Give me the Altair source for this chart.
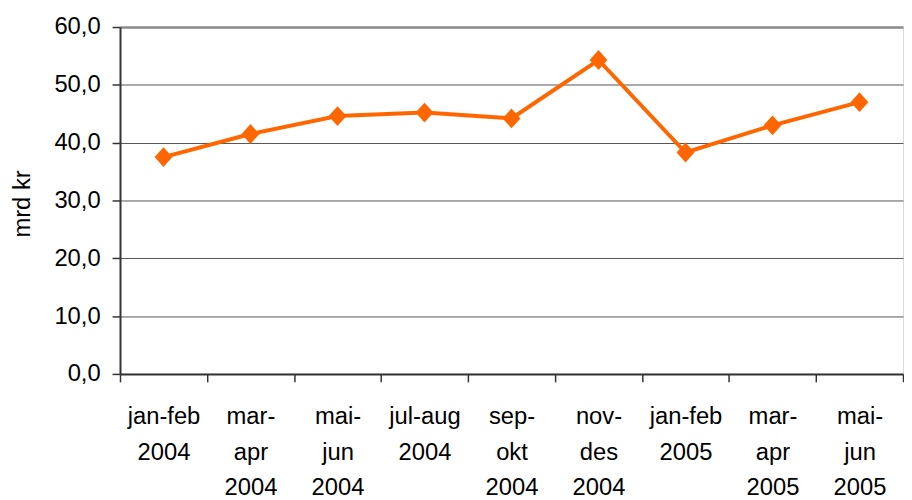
import altair as alt
import pandas as pd

categories = ["jan-feb\n2004", "mar-\napr\n2004", "mai-\njun\n2004", "jul-aug\n2004",
              "sep-\nokt\n2004", "nov-\ndes\n2004", "jan-feb\n2005", "mar-\napr\n2005",
              "mai-\njun\n2005"]
values = [37.5, 41.5, 44.6, 45.2, 44.2, 54.3, 38.3, 43.0, 47.0]
y_ticks = [0, 10, 20, 30, 40, 50, 60]

df = pd.DataFrame({"periode": categories, "verdi": values})

FONT = "Liberation Sans"
ORANGE = "#FF6600"

x_enc = alt.X(
    "periode:N",
    sort=categories,
    scale=alt.Scale(type="band", paddingInner=0, paddingOuter=0),
    axis=alt.Axis(
        title=None,
        labelAngle=0,
        labelAlign="center",
        labelBaseline="top",
        labelExpr="split(datum.label, '\\n')",
        labelFont=FONT,
        labelFontSize=24,
        labelColor="#000000",
        labelLineHeight=36,
        labelPadding=23,
        labelOverlap=False,
        labelBound=False,
        tickBand="extent",
        ticks=True,
        tickSize=8,
        tickColor="#333333",
        tickWidth=1.5,
        domainColor="#333333",
        domainWidth=2,
        grid=False,
    ),
)

y_enc = alt.Y(
    "verdi:Q",
    scale=alt.Scale(domain=[0, 60], nice=False),
    axis=alt.Axis(
        title="mrd kr",
        titleFont=FONT,
        titleFontSize=24,
        titleFontWeight="normal",
        titleColor="#000000",
        titleAngle=270,
        titleAlign="center",
        titleBaseline="alphabetic",
        titleX=-91,
        titleY=178,
        values=y_ticks,
        labelExpr="replace(format(datum.value, '.1f'), '.', ',')",
        labelFont=FONT,
        labelFontSize=24,
        labelColor="#000000",
        labelPadding=12,
        tickSize=8,
        tickColor="#333333",
        tickWidth=1.5,
        domainColor="#333333",
        domainWidth=2,
        grid=True,
        gridColor={"condition": {"test": "datum.value === 60", "value": "#8a8a8a"}, "value": "#555555"},
        gridWidth={"condition": {"test": "datum.value === 60", "value": 2.5}, "value": 1},
    ),
)

base = alt.Chart(df).encode(x=x_enc, y=y_enc)

line = base.mark_line(color=ORANGE, strokeWidth=4)
points = base.mark_point(
    shape="M0,-1L0.9,0L0,1L-0.9,0Z",
    size=400,
    filled=True,
    color=ORANGE,
    opacity=1,
)

chart = (
    alt.layer(line, points)
    .properties(
        width=790,
        height=350,
        padding={"left": 113, "top": 17, "right": 1, "bottom": 125},
        autosize=alt.AutoSizeParams(type="none"),
        background="#ffffff",
    )
    .configure_view(stroke="#dcdcdc", strokeWidth=1)
)

chart.save("out.html", embed_options={"renderer": "svg", "actions": False})
